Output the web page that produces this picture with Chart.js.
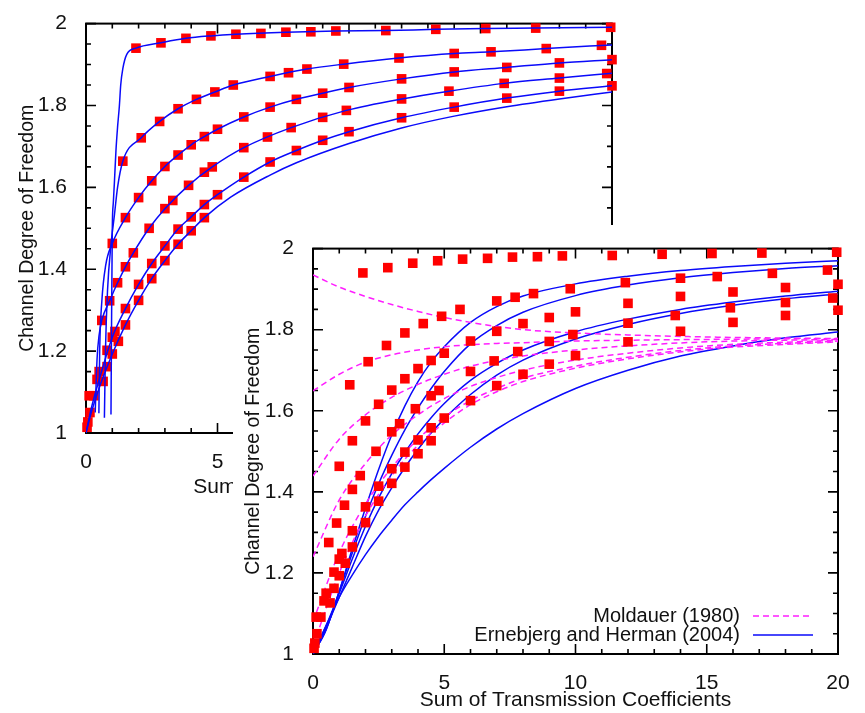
<!DOCTYPE html>
<html>
<head>
<meta charset="utf-8">
<script src="https://cdn.jsdelivr.net/npm/chart.js@4.4.1/dist/chart.umd.min.js"></script>
<style>
  html, body { margin: 0; padding: 0; background: #fff; overflow: hidden; }
  #wrap { position: relative; width: 865px; height: 713px; }
  #back { position: absolute; left: 0; top: 0; }
  #front { position: absolute; left: 233px; top: 225px; background: #fff; }
</style>
</head>
<body>
<div id="wrap">
  <canvas id="back" width="640" height="510"></canvas>
  <canvas id="front" width="632" height="488"></canvas>
</div>
<script>
// tick labels
const xTickLabels = ['0', '5', '10', '15', '20'];
const yTickLabels = ['1', '1.2', '1.4', '1.6', '1.8', '2'];

// red squares (same data in both panels)
const s1x = [1.9, 2.85, 3.8, 4.75, 5.7, 6.65, 7.6, 8.55, 9.5, 11.4, 13.3, 15.2, 17.1, 19.95];
const s1y = [1.940, 1.953, 1.964, 1.970, 1.974, 1.976, 1.979, 1.980, 1.982, 1.983, 1.986, 1.988, 1.989, 1.991];
const s2x = [1.4, 2.1, 2.8, 3.5, 4.2, 4.9, 5.6, 7.0, 7.7, 8.4, 9.8, 11.9, 14.0, 15.4, 17.5, 19.6];
const s2y = [1.664, 1.721, 1.761, 1.792, 1.815, 1.833, 1.850, 1.871, 1.880, 1.889, 1.901, 1.916, 1.927, 1.931, 1.939, 1.947];
const s3x = [1.0, 1.5, 2.0, 2.5, 3.0, 3.5, 4.0, 4.5, 5.0, 6.0, 7.0, 8.0, 9.0, 10.0, 12.0, 14.0, 16.0, 18.0, 20.0];
const s3y = [1.463, 1.526, 1.575, 1.616, 1.651, 1.679, 1.704, 1.724, 1.742, 1.772, 1.796, 1.815, 1.830, 1.844, 1.865, 1.882, 1.893, 1.904, 1.912];
const s4x = [0.6, 0.9, 1.2, 1.5, 1.8, 2.4, 3.0, 3.3, 3.9, 4.5, 4.8, 6.0, 6.9, 7.8, 9.0, 9.9, 12.0, 13.8, 15.9, 18.0, 19.8];
const s4y = [1.275, 1.323, 1.367, 1.406, 1.440, 1.500, 1.548, 1.568, 1.605, 1.637, 1.650, 1.697, 1.723, 1.746, 1.771, 1.788, 1.816, 1.835, 1.854, 1.867, 1.878];
const s5x = [1.0, 1.5, 2.0, 2.5, 3.0, 3.5, 4.0, 4.5, 5.0, 6.0, 7.0, 8.0, 9.0, 10.0, 12.0, 14.0, 16.0, 18.0, 20.0];
const s5y = [1.234, 1.304, 1.363, 1.414, 1.457, 1.498, 1.528, 1.558, 1.582, 1.625, 1.662, 1.690, 1.715, 1.736, 1.770, 1.796, 1.818, 1.835, 1.848];
const s6x = [1.0, 1.5, 2.0, 2.5, 3.0, 3.5, 4.0, 4.5];
const s6y = [1.193, 1.264, 1.324, 1.377, 1.421, 1.461, 1.494, 1.526];
const lowX = [1.1, 1.23, 0.8, 0.8, 0.5, 0.42, 0.65, 0.12, 0.3, 0.15, 0.07, 0.04];
const lowY = [1.248, 1.224, 1.202, 1.162, 1.150, 1.131, 1.126, 1.091, 1.091, 1.050, 1.027, 1.014];

// back panel fitted curves (blue)
const b1x = [0.95, 0.97, 1.0, 1.04, 1.08, 1.14, 1.2, 1.27, 1.32, 1.4, 1.55, 1.9, 2.85, 3.8, 4.75, 5.7, 7.6, 9.5, 11.4, 13.3, 15.2, 17.1, 20];
const b1y = [1.045, 1.25, 1.5, 1.564, 1.612, 1.691, 1.747, 1.80, 1.85, 1.89, 1.925, 1.94, 1.953, 1.964, 1.970, 1.974, 1.979, 1.982, 1.983, 1.986, 1.988, 1.989, 1.991];
const b2x = [0.7, 0.74, 0.82, 0.95, 1.08, 1.2, 1.4, 2.1, 2.8, 3.5, 4.2, 4.9, 5.6, 7.0, 8.4, 9.8, 11.9, 14.0, 15.4, 17.5, 20];
const b2y = [1.037, 1.2, 1.35, 1.46, 1.532, 1.6, 1.664, 1.721, 1.761, 1.792, 1.815, 1.833, 1.850, 1.871, 1.889, 1.901, 1.916, 1.927, 1.931, 1.939, 1.948];
const b3x = [0.49, 0.52, 0.6, 0.75, 1.0, 1.5, 2.0, 2.5, 3.0, 3.5, 4.0, 4.5, 5.0, 6.0, 7.0, 8.0, 9.0, 10.0, 12.0, 14.0, 16.0, 18.0, 20.0];
const b3y = [1.048, 1.2, 1.32, 1.41, 1.463, 1.526, 1.575, 1.616, 1.651, 1.679, 1.704, 1.724, 1.742, 1.772, 1.796, 1.815, 1.830, 1.844, 1.865, 1.882, 1.893, 1.904, 1.912];
const b4x = [0.35, 0.42, 0.5, 0.6, 0.9, 1.2, 1.5, 1.8, 2.4, 3.0, 3.9, 4.8, 6.0, 7.8, 9.9, 12.0, 13.8, 15.9, 18.0, 20];
const b4y = [1.05, 1.18, 1.24, 1.275, 1.323, 1.367, 1.406, 1.440, 1.500, 1.548, 1.605, 1.650, 1.697, 1.746, 1.788, 1.816, 1.835, 1.854, 1.867, 1.879];
const b5x = [0, 0.2, 0.5, 1.0, 1.5, 2.0, 2.5, 3.0, 3.5, 4.0, 4.5, 5.0, 6.0, 7.0, 8.0, 9.0, 10.0, 12.0, 14.0, 16.0, 18.0, 20.0];
const b5y = [1.0, 1.06, 1.13, 1.234, 1.304, 1.363, 1.414, 1.457, 1.498, 1.528, 1.558, 1.582, 1.625, 1.662, 1.690, 1.715, 1.736, 1.770, 1.796, 1.818, 1.835, 1.848];
const b6x = [0, 0.2, 0.5, 1.0, 1.5, 2.0, 2.5, 3.0, 3.5, 4.0, 4.5, 5.5, 7.0, 8.0, 10.0, 12.0, 14.0, 16.0, 18.0, 20.0];
const b6y = [1.0, 1.05, 1.11, 1.193, 1.264, 1.324, 1.377, 1.421, 1.461, 1.494, 1.526, 1.576, 1.630, 1.660, 1.707, 1.745, 1.774, 1.797, 1.816, 1.833];

// front panel: Moldauer (1980), dashed magenta
const moldX = [0, 1, 2, 3, 4, 5, 6, 7, 8, 10, 12, 15, 20];
const mold1 = [1.935, 1.905, 1.882, 1.862, 1.845, 1.830, 1.818, 1.808, 1.800, 1.792, 1.787, 1.782, 1.778];
const mold2 = [1.649, 1.690, 1.720, 1.738, 1.750, 1.758, 1.763, 1.766, 1.768, 1.772, 1.774, 1.776, 1.778];
const mold3 = [1.439, 1.530, 1.590, 1.633, 1.665, 1.690, 1.710, 1.724, 1.735, 1.750, 1.760, 1.770, 1.776];
const mold4 = [1.240, 1.380, 1.470, 1.540, 1.590, 1.630, 1.660, 1.682, 1.700, 1.725, 1.742, 1.760, 1.774];
const mold5 = [1.080, 1.250, 1.370, 1.460, 1.530, 1.585, 1.625, 1.655, 1.680, 1.710, 1.732, 1.755, 1.772];
const mold6 = [1.020, 1.200, 1.340, 1.440, 1.515, 1.570, 1.615, 1.647, 1.672, 1.705, 1.728, 1.752, 1.770];

// front panel: Ernebjerg and Herman (2004), solid blue
const ehX = [0, 0.5, 1, 1.5, 2, 2.5, 3, 3.5, 4, 4.5, 5, 6, 7, 8, 10, 12, 14, 16, 18, 20];
const eh1 = [1.0, 1.06, 1.155, 1.26, 1.36, 1.455, 1.54, 1.612, 1.672, 1.72, 1.758, 1.818, 1.857, 1.883, 1.913, 1.932, 1.946, 1.956, 1.964, 1.970];
const eh2 = [1.0, 1.06, 1.155, 1.25, 1.34, 1.42, 1.49, 1.553, 1.607, 1.655, 1.697, 1.765, 1.81, 1.843, 1.884, 1.91, 1.928, 1.941, 1.951, 1.958];
const eh3 = [1.0, 1.07, 1.15, 1.235, 1.315, 1.385, 1.445, 1.497, 1.543, 1.583, 1.618, 1.675, 1.717, 1.75, 1.795, 1.826, 1.85, 1.868, 1.883, 1.895];
const eh4 = [1.0, 1.065, 1.14, 1.215, 1.29, 1.355, 1.41, 1.46, 1.505, 1.545, 1.58, 1.64, 1.688, 1.725, 1.777, 1.813, 1.84, 1.86, 1.876, 1.888];
const eh5 = [1.0, 1.07, 1.14, 1.195, 1.245, 1.29, 1.33, 1.368, 1.40, 1.43, 1.458, 1.51, 1.555, 1.593, 1.655, 1.70, 1.735, 1.76, 1.78, 1.794];

const FONT = '"Liberation Sans", Arial, sans-serif';
const RED = 'rgb(255,0,0)';
const BLUE = 'rgb(10,10,250)';
const MAGENTA = 'rgb(255,30,255)';

function pts(xs, ys) { return xs.map((x, i) => ({ x: x, y: ys[i] })); }

function squares(xs, ys) {
  return { data: pts(xs, ys), showLine: false, pointStyle: 'rect', pointRadius: 6.8,
    pointBackgroundColor: RED, pointBorderWidth: 0, clip: false };
}
function curve(xs, ys, color, dash, label) {
  return { label: label, data: pts(xs, ys), showLine: true, pointRadius: 0, borderColor: color,
    borderWidth: 1.5, borderDash: dash || [], cubicInterpolationMode: 'monotone', fill: false };
}

// inward tick marks + frame, gnuplot style
const frameTicks = {
  id: 'frameTicks',
  beforeDatasetsDraw(chart) {
    const { ctx, chartArea: a, scales } = chart;
    const x = scales.x, y = scales.y;
    ctx.save();
    ctx.strokeStyle = '#000';
    ctx.lineWidth = 1.6;
    ctx.beginPath();
    for (let i = 0; i <= 20; i++) {
      const px = x.getPixelForValue(i);
      const len = i % 5 === 0 ? 10 : 5;
      ctx.moveTo(px, a.bottom); ctx.lineTo(px, a.bottom - len);
      ctx.moveTo(px, a.top); ctx.lineTo(px, a.top + len);
    }
    for (let i = 0; i <= 20; i++) {
      const py = y.getPixelForValue(1 + i * 0.05);
      const len = i % 4 === 0 ? 10 : 5;
      ctx.moveTo(a.left, py); ctx.lineTo(a.left + len, py);
      ctx.moveTo(a.right, py); ctx.lineTo(a.right - len, py);
    }
    ctx.stroke();
    ctx.lineWidth = 2;
    ctx.strokeRect(a.left, a.top, a.right - a.left, a.bottom - a.top);
    ctx.restore();
  }
};

// legend drawn inside the plot, text left of the sample line
const insideLegend = {
  id: 'insideLegend',
  afterDatasetsDraw(chart) {
    const { ctx, chartArea: a } = chart;
    const items = chart.data.datasets.filter(d => d.label);
    ctx.save();
    ctx.font = '20px ' + FONT;
    ctx.fillStyle = '#111';
    ctx.textAlign = 'right';
    ctx.textBaseline = 'middle';
    items.forEach((d, i) => {
      const yy = a.bottom - 38 + i * 19;
      ctx.fillText(d.label, a.right - 98, yy);
      ctx.strokeStyle = d.borderColor;
      ctx.lineWidth = 1.5;
      ctx.setLineDash(d.borderDash);
      ctx.beginPath();
      ctx.moveTo(a.right - 85, yy); ctx.lineTo(a.right - 25, yy);
      ctx.stroke();
    });
    ctx.restore();
  }
};

function axes(yWidth, xHeight, yTitlePad, xTitlePad) {
  return {
    x: {
      type: 'linear', min: 0, max: 20,
      grid: { display: false }, border: { display: false },
      ticks: { stepSize: 5, padding: 9, color: '#111', font: { family: FONT, size: 21 },
        callback: (v, i) => xTickLabels[i] },
      title: { display: true, text: 'Sum of Transmission Coefficients', color: '#111',
        font: { family: FONT, size: 21 }, padding: { top: 0, bottom: xTitlePad } },
      afterFit: s => { s.height = xHeight; }
    },
    y: {
      type: 'linear', min: 1, max: 2,
      grid: { display: false }, border: { display: false },
      ticks: { stepSize: 0.2, padding: 11, color: '#111', font: { family: FONT, size: 21 },
        callback: (v, i) => yTickLabels[i] },
      title: { display: true, text: 'Channel Degree of Freedom', color: '#111',
        font: { family: FONT, size: 19.5 }, padding: { top: yTitlePad, bottom: 0 } },
      afterFit: s => { s.width = yWidth; }
    }
  };
}

const common = {
  responsive: false, animation: false, devicePixelRatio: 1,
  plugins: { legend: { display: false }, tooltip: { enabled: false } }
};

new Chart(document.getElementById('back'), {
  type: 'scatter',
  data: {
    datasets: [
      curve(b1x, b1y, BLUE), curve(b2x, b2y, BLUE), curve(b3x, b3y, BLUE),
      curve(b4x, b4y, BLUE), curve(b5x, b5y, BLUE), curve(b6x, b6y, BLUE),
      squares(s1x, s1y), squares(s2x, s2y), squares(s3x, s3y),
      squares(s4x, s4y), squares(s5x, s5y), squares(s6x, s6y), squares(lowX, lowY)
    ]
  },
  options: Object.assign({}, common, {
    layout: { padding: { top: 14, right: 28, left: 0, bottom: 0 } },
    scales: axes(86, 77, 16, 10)
  }),
  plugins: [frameTicks]
});

new Chart(document.getElementById('front'), {
  type: 'scatter',
  data: {
    datasets: [
      squares(s1x, s1y), squares(s2x, s2y), squares(s3x, s3y),
      squares(s4x, s4y), squares(s5x, s5y), squares(s6x, s6y), squares(lowX, lowY),
      curve(moldX, mold1, MAGENTA, [6, 4], 'Moldauer (1980)'),
      curve(moldX, mold2, MAGENTA, [6, 4]), curve(moldX, mold3, MAGENTA, [6, 4]),
      curve(moldX, mold4, MAGENTA, [6, 4]), curve(moldX, mold5, MAGENTA, [6, 4]),
      curve(moldX, mold6, MAGENTA, [6, 4]),
      curve(ehX, eh1, BLUE, null, 'Ernebjerg and Herman (2004)'),
      curve(ehX, eh2, BLUE), curve(ehX, eh3, BLUE), curve(ehX, eh4, BLUE), curve(ehX, eh5, BLUE)
    ]
  },
  options: Object.assign({}, common, {
    layout: { padding: { top: 21, right: 27, left: 0, bottom: 0 } },
    scales: axes(80, 59, 9, 0)
  }),
  plugins: [frameTicks, insideLegend]
});
</script>
</body>
</html>
